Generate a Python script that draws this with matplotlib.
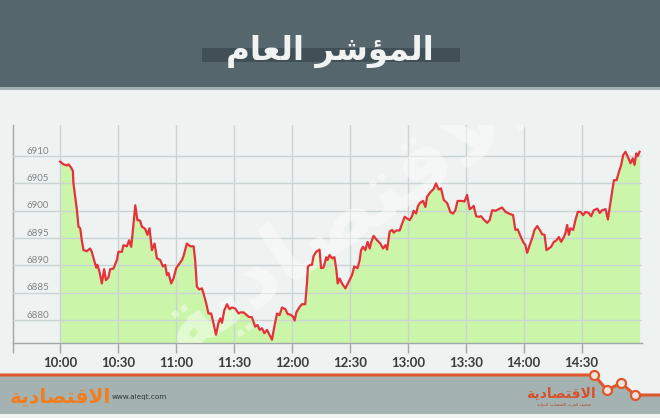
import matplotlib
matplotlib.use('Agg')
import matplotlib.pyplot as plt
import matplotlib.transforms as mtransforms
from matplotlib.patches import Rectangle, Polygon

# ---------------- data (minutes after 10:00, index value) ----------------
minutes = [0.0, 1.7, 3.5, 4.3, 5.5, 6.6, 6.9, 7.8, 8.7, 9.5, 10.4, 11.2, 12.1, 13.8, 15.5,
           16.4, 17.3, 18.7, 19.3, 20.4, 21.6, 22.8, 23.7, 25.0, 25.9, 27.6, 29.4, 30.2,
           32.0, 32.8, 34.6, 35.7, 36.8, 37.7, 38.9, 40.0, 41.4, 42.3, 44.0, 45.2, 46.3,
           47.5, 48.9, 50.1, 51.8, 53.2, 54.4, 55.3, 56.1, 57.5, 58.7, 60.1, 61.3, 63.1,
           63.9, 65.6, 67.4, 69.1, 69.9, 70.8, 72.0, 73.4, 74.2, 75.6, 76.8, 78.2, 79.4,
           80.7, 82.0, 82.9, 83.8, 85.0, 86.4, 87.7, 89.0, 90.7, 92.4, 93.3, 95.0, 97.6,
           99.3, 101.0, 102.2, 103.3, 104.5, 105.7, 107.1, 108.4, 109.7, 110.9, 112.3,
           113.6, 114.9, 116.6, 117.8, 119.2, 120.6, 121.4, 122.3, 124.0, 125.2, 126.9,
           127.8, 128.3, 129.5, 130.4, 131.2, 132.6, 134.3, 135.1, 136.4, 137.8, 138.5,
           139.5, 140.8, 142.0, 143.0, 143.7, 144.7, 145.9, 147.7, 149.4, 151.1, 152.3,
           154.0, 155.1, 155.8, 156.8, 158.0, 159.2, 160.3, 161.1, 162.3, 164.1, 165.8,
           167.2, 168.4, 169.3, 170.6, 171.9, 172.7, 174.1, 175.8, 177.0, 178.4, 179.6,
           181.0, 182.2, 183.0, 184.3, 185.3, 186.5, 187.9, 189.1, 190.0, 191.7, 193.4,
           194.6, 196.0, 197.2, 198.6, 200.4, 202.1, 203.5, 204.6, 205.8, 208.1, 209.4,
           210.7, 212.0, 213.3, 214.1, 215.4, 216.7, 218.0, 219.3, 221.1, 222.4, 223.7,
           225.4, 227.1, 228.8, 230.6, 232.3, 234.5, 235.7, 236.9, 238.3, 239.7, 240.9,
           241.8, 243.1, 244.4, 245.6, 247.0, 248.3, 249.6, 250.8, 251.8, 253.0, 254.2,
           255.6, 257.0, 258.2, 259.4, 260.8, 261.6, 262.5, 263.4, 264.2, 265.6, 266.8,
           268.0, 269.4, 270.8, 272.0, 273.7, 274.9, 276.3, 278.1, 279.4, 280.6, 282.4,
           283.6, 284.6, 285.9, 286.7, 288.1, 289.3, 290.5, 291.5, 292.7, 293.9, 295.3,
           296.5, 297.4, 298.3, 299.0, 300.0]
values = [6909.0, 6908.5, 6908.3, 6908.5, 6908.0, 6907.3, 6905.0, 6902.6, 6900.1, 6897.1,
          6896.8, 6894.6, 6892.8, 6892.6, 6893.1, 6892.5, 6891.3, 6889.6, 6890.1, 6888.8,
          6886.7, 6889.3, 6887.3, 6887.8, 6889.3, 6889.4, 6891.0, 6892.5, 6892.5, 6893.7,
          6893.5, 6894.6, 6893.4, 6896.5, 6901.0, 6898.3, 6898.2, 6897.1, 6896.7, 6895.6,
          6896.8, 6892.8, 6894.0, 6891.3, 6891.0, 6889.8, 6890.1, 6888.2, 6888.6, 6886.7,
          6887.6, 6889.5, 6890.1, 6891.0, 6891.7, 6894.0, 6893.5, 6893.5, 6891.0, 6886.1,
          6885.6, 6885.8, 6884.9, 6883.1, 6881.2, 6881.2, 6879.4, 6877.3, 6879.5, 6880.3,
          6879.5, 6881.8, 6882.9, 6882.0, 6882.3, 6882.1, 6881.2, 6881.4, 6881.4, 6880.6,
          6880.5, 6878.8, 6879.1, 6878.2, 6878.5, 6877.6, 6878.2, 6877.3, 6876.4, 6878.8,
          6881.2, 6880.9, 6882.3, 6882.0, 6881.1, 6881.0, 6880.6, 6879.9, 6881.4, 6882.4,
          6882.9, 6882.9, 6886.7, 6889.8, 6890.1, 6890.1, 6891.7, 6892.5, 6892.9, 6889.5,
          6889.6, 6891.5, 6891.0, 6891.9, 6891.3, 6891.5, 6889.2, 6886.7, 6887.6, 6886.7,
          6885.8, 6887.0, 6888.2, 6889.8, 6889.5, 6891.0, 6892.8, 6893.4, 6892.8, 6894.3,
          6893.1, 6894.3, 6895.4, 6894.6, 6894.0, 6893.1, 6893.7, 6892.9, 6896.2, 6896.5,
          6896.0, 6896.4, 6896.4, 6897.6, 6898.9, 6898.6, 6898.3, 6899.0, 6900.0, 6899.5,
          6900.9, 6901.5, 6901.8, 6900.7, 6902.6, 6903.4, 6904.0, 6905.0, 6903.9, 6904.1,
          6902.0, 6901.4, 6899.7, 6899.5, 6900.1, 6901.8, 6901.8, 6901.7, 6902.9, 6900.3,
          6900.6, 6900.9, 6899.0, 6898.9, 6899.0, 6898.4, 6897.8, 6898.3, 6900.1, 6900.0,
          6900.3, 6900.6, 6899.8, 6899.5, 6899.2, 6896.5, 6896.6, 6895.4, 6894.3, 6893.7,
          6892.3, 6893.7, 6895.0, 6896.5, 6897.2, 6896.5, 6895.7, 6895.6, 6892.8, 6893.1,
          6893.4, 6894.3, 6894.6, 6895.2, 6894.3, 6895.2, 6895.9, 6897.4, 6895.6, 6896.8,
          6896.5, 6898.3, 6899.8, 6899.8, 6899.2, 6899.8, 6899.6, 6899.0, 6900.1, 6900.4,
          6899.6, 6900.1, 6900.3, 6898.4, 6900.7, 6903.8, 6905.6, 6905.6, 6907.1, 6908.4,
          6910.2, 6910.8, 6909.9, 6908.7, 6909.6, 6908.4, 6910.5, 6910.0, 6910.8]

y_ticks = [6880, 6885, 6890, 6895, 6900, 6905, 6910]
x_tick_minutes = [0, 30, 60, 90, 120, 150, 180, 210, 240, 270]
x_tick_labels = ['10:00', '10:30', '11:00', '11:30', '12:00', '12:30',
                 '13:00', '13:30', '14:00', '14:30']

title = 'المؤشر العام'
brand = 'الاقتصادية'
tagline = 'صحيفة العرب الاقتصادية الدولية'
site = 'www.aleqt.com'

# ---------------- minimal Arabic shaping for display ----------------
FORMS = {  # isolated, final, initial, medial
    'ا': ('\uFE8D', '\uFE8E', None, None),
    'ل': ('\uFEDD', '\uFEDE', '\uFEDF', '\uFEE0'),
    'م': ('\uFEE1', '\uFEE2', '\uFEE3', '\uFEE4'),
    'ؤ': ('\uFE85', '\uFE86', None, None),
    'ش': ('\uFEB5', '\uFEB6', '\uFEB7', '\uFEB8'),
    'ر': ('\uFEAD', '\uFEAE', None, None),
    'ع': ('\uFEC9', '\uFECA', '\uFECB', '\uFECC'),
    'ق': ('\uFED5', '\uFED6', '\uFED7', '\uFED8'),
    'ت': ('\uFE95', '\uFE96', '\uFE97', '\uFE98'),
    'ص': ('\uFEB9', '\uFEBA', '\uFEBB', '\uFEBC'),
    'د': ('\uFEA9', '\uFEAA', None, None),
    'ي': ('\uFEF1', '\uFEF2', '\uFEF3', '\uFEF4'),
    'ة': ('\uFE93', '\uFE94', None, None),
    'ح': ('\uFEA1', '\uFEA2', '\uFEA3', '\uFEA4'),
    'ف': ('\uFED1', '\uFED2', '\uFED3', '\uFED4'),
    'ب': ('\uFE8F', '\uFE90', '\uFE91', '\uFE92'),
    'و': ('\uFEED', '\uFEEE', None, None),
    'LA': ('\uFEFB', '\uFEFC', None, None),
}


def shape_word(word):
    toks = []
    i = 0
    while i < len(word):
        if word[i] == 'ل' and i + 1 < len(word) and word[i + 1] == 'ا':
            toks.append('LA')
            i += 2
        else:
            toks.append(word[i])
            i += 1
    out = []
    for k, t in enumerate(toks):
        f = FORMS.get(t)
        if f is None:
            out.append(t)
            continue
        prev_join = k > 0 and FORMS.get(toks[k - 1], (None, None, None))[2] is not None
        next_join = k + 1 < len(toks) and f[2] is not None
        if prev_join and next_join:
            out.append(f[3])
        elif prev_join:
            out.append(f[1])
        elif next_join:
            out.append(f[2])
        else:
            out.append(f[0])
    return ''.join(reversed(out))


def ar(text):
    return ' '.join(shape_word(w) for w in reversed(text.split(' ')))


# ---------------- figure ----------------
W, H = 660, 418
fig = plt.figure(figsize=(W / 100, H / 100), dpi=100)

bg = fig.add_axes([0, 0, 1, 1], zorder=0)
bg.set_xlim(0, W)
bg.set_ylim(H, 0)
bg.axis('off')

bg.add_patch(Rectangle((0, 0), W, H, color='#eef2f1', lw=0))
bg.add_patch(Rectangle((0, 0), W, 87, color='#56666d', lw=0))
bg.add_patch(Rectangle((0, 87), W, 2.5, color='#a3b1b1', lw=0))
bg.add_patch(Rectangle((202, 48), 258, 14, color='#414f56', lw=0))
bg.text(330, 51, ar(title), ha='center', va='center', fontsize=23.5,
        color='#f1f3f3', fontweight='bold', family=['DejaVu Sans'])

# footer band with zigzag decoration
zx = [0, 594, 607, 621, 635, 660]
zy = [375, 375, 390, 383, 395, 395]
bg.add_patch(Polygon(list(zip(zx, zy)) + [(660, 414), (0, 414)], closed=True,
                     color='#a4b3b2', lw=0))
bg.plot(zx, zy, color='#e0572b', lw=2.2, solid_capstyle='butt')
bg.plot(zx[1:5], zy[1:5], 'o', ms=6.5, mfc='#f1e4de', mec='#e0572b', mew=1.6)

bg.text(112, 397.5, site, ha='left', va='center', fontsize=5.2, color='#2f3535',
        family=['DejaVu Sans'])
bg.text(60, 397, ar(brand), ha='center', va='center', fontsize=14.5,
        color='#f07d1e', fontweight='bold', family=['DejaVu Sans'])
bg.text(561, 394, ar(brand), ha='center', va='center', fontsize=10,
        color='#d4512b', fontweight='bold', family=['DejaVu Sans'])
bg.text(564, 404.5, ar(tagline), ha='center', va='center', fontsize=3,
        color='#b5452a', family=['DejaVu Sans'])

# ---------------- chart ----------------
left_px, right_px, top_px, bot_px = 13, 641.7, 125, 343
ax = fig.add_axes([left_px / W, (H - bot_px) / H, (right_px - left_px) / W,
                   (bot_px - top_px) / H], zorder=1)
ax.patch.set_alpha(0)
ymin, ymax = 6875.8, 6915.7
ax.set_xlim(-24.4, 301.1)
ax.set_ylim(ymin, ymax)

ax.fill_between(minutes, values, ymin, color='#cbf6a9', lw=0, zorder=1)
ax.plot(minutes, values, color='#e5313a', lw=1.6, zorder=4, solid_joinstyle='round')

ax.set_yticks(y_ticks)
ax.set_xticks(x_tick_minutes)
ax.set_xticklabels(x_tick_labels)
ax.set_xticks([-24.4], minor=True)
ax.grid(True, which='major', color='#cad4d4', lw=1, zorder=2)
ax.set_axisbelow(False)
for gl in ax.get_xgridlines() + ax.get_ygridlines():
    gl.set_zorder(2)

ax.tick_params(axis='y', length=0, labelleft=False)
ax.tick_params(axis='x', which='both', direction='out', length=7, width=1,
               color='#9ea8a8', pad=3)
for lbl in ax.get_xticklabels():
    lbl.set_fontfamily('Lato')
    lbl.set_fontweight('bold')
    lbl.set_fontsize(9.5)
    lbl.set_color('#3b3b3b')

for side in ('top', 'right'):
    ax.spines[side].set_visible(False)
for side in ('left', 'bottom'):
    ax.spines[side].set_color('#9ea8a8')
    ax.spines[side].set_linewidth(1)

trans = mtransforms.blended_transform_factory(ax.transAxes, ax.transData) + \
    mtransforms.ScaledTranslation(0, 3.5 / 72, fig.dpi_scale_trans)
for v in y_ticks:
    ax.text(0.021, v, str(v), transform=trans, ha='left', va='center',
            fontsize=7, color='#7f8585', family='Lato')

# watermark
ax.text(0.53, 0.58, ar(brand), transform=ax.transAxes, ha='center', va='center',
        rotation=34, fontsize=62, fontweight='bold', color='white', alpha=0.45,
        zorder=3, clip_on=True, family=['DejaVu Sans'])

fig.savefig('out.png', dpi=100)
